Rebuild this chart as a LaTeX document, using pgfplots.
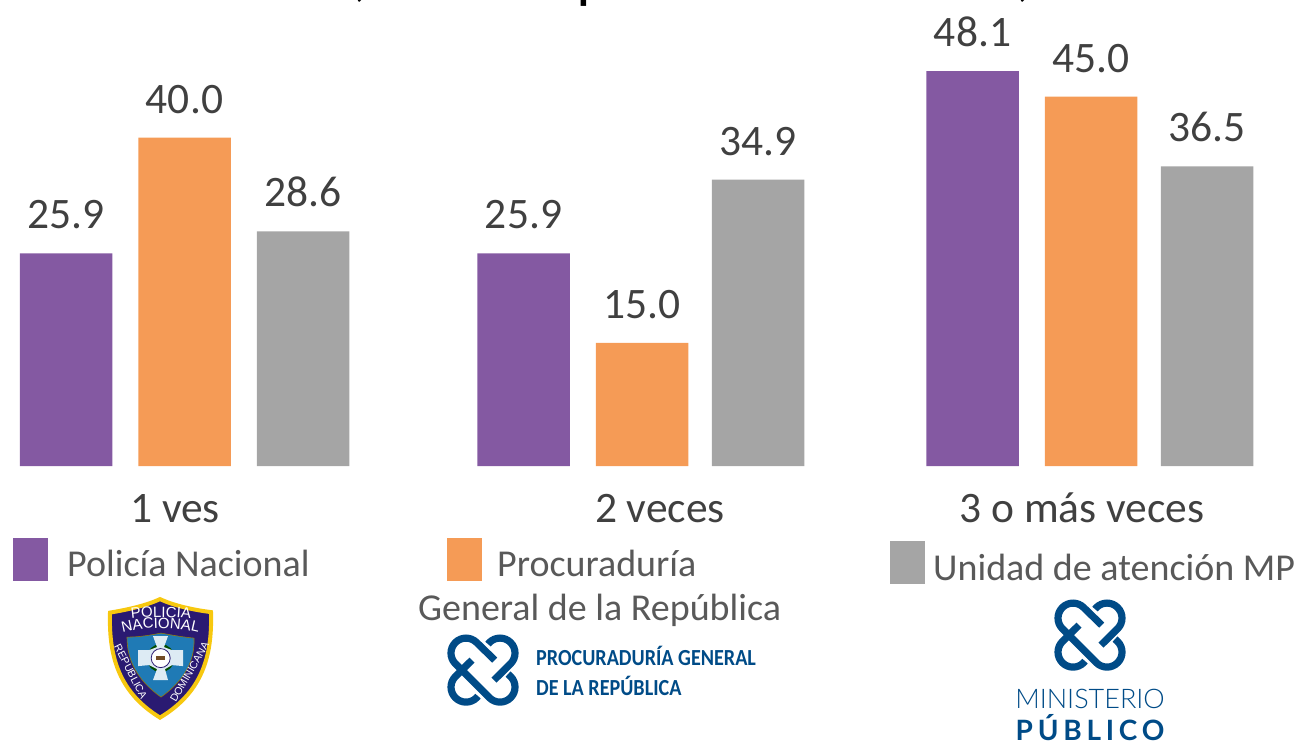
\documentclass[border=0pt]{standalone}
\usepackage{pgfplots}
\pgfplotsset{compat=1.18}
\usepackage{fontspec}
\setmainfont{Carlito}
\newfontfamily\heros{Liberation Sans}
\newfontfamily\lat{Lato Light}
\newfontfamily\latb[LetterSpace=17]{Lato}
\usetikzlibrary{decorations.text}
\definecolor{cpur}{HTML}{8459A2}
\definecolor{cora}{HTML}{F59B56}
\definecolor{cgra}{HTML}{A5A5A5}
\definecolor{ctxt}{HTML}{404040}
\definecolor{cleg}{HTML}{595959}
\definecolor{cblu}{HTML}{004B87}
\definecolor{cnav}{HTML}{2A1A72}
\definecolor{cyel}{HTML}{F7C80F}
\definecolor{cshi}{HTML}{1F7AB5}
\newcommand{\knot}[2]{%
\begin{scope}[shift={(#1,#2)},x=1pt,y=1pt,line width=7.2pt,cblu,line cap=butt]
\draw (11.7,10) -- (-6.4,27.6) arc[start angle=45,end angle=225,radius=15] -- (6.4,-27.6) arc[start angle=225,end angle=405,radius=15] -- (25,-4);
\draw (11,-10) -- (27.6,6.4) arc[start angle=-45,end angle=135,radius=15] -- (5,26);
\draw (-11,10) -- (-27.6,-6.4) arc[start angle=135,end angle=315,radius=15] -- (-5,-26);
\end{scope}}
\begin{document}
\begin{tikzpicture}
\begin{scope}[x=1pt,y=-1pt]
\path[use as bounding box] (0,0) rectangle (1297,741);
\clip (0,0) rectangle (1297,741);
\node[anchor=base,font=\fontsize{44}{44}\selectfont\bfseries,inner sep=0] at (361,-4) {,};
\node[anchor=base,font=\fontsize{44}{44}\selectfont\bfseries,inner sep=0] at (590,-1) {p};
\node[anchor=base,font=\fontsize{44}{44}\selectfont\bfseries,inner sep=0] at (1024,-4) {,};
\end{scope}
\begin{axis}[
  at={(0pt,-466pt)},anchor=south west,scale only axis,
  width=1297pt,height=466pt,
  xmin=0,xmax=1297,ymin=0,ymax=56.76,
  ybar,bar shift=0pt,bar width=92.5pt,
  axis line style={draw=none},
  major tick length=0pt,
  ytick=\empty,
  xtick={175,660,1082},
  xticklabels={1 ves,2 veces,3 o más veces},
  xticklabel style={font=\fontsize{43.5}{43.5}\selectfont,text=ctxt,inner sep=0pt,yshift=-56pt,anchor=base},
  clip=false,
  nodes near coords,
  /pgf/number format/assume math mode=true,
  /pgf/number format/.cd,fixed,fixed zerofill,precision=1,/pgfplots/.cd,
  nodes near coords style={font=\fontsize{43.5}{43.5}\selectfont,text=ctxt,anchor=south,inner sep=0pt,yshift=24pt},
]
\addplot[fill=cpur,draw=none] coordinates {(66,25.9) (523.5,25.9) (972.5,48.1)};
\addplot[fill=cora,draw=none] coordinates {(184.5,40.0) (642,15.0) (1091,45.0)};
\addplot[fill=cgra,draw=none] coordinates {(303,28.6) (758,34.9) (1207,36.5)};
\end{axis}
\begin{scope}[x=1pt,y=-1pt]
% legend
\fill[cpur] (13,538) rectangle (48,581);
\fill[cora] (447,538) rectangle (482,581);
\fill[cgra] (890,541) rectangle (925,584);
\begin{scope}[every node/.style={anchor=base west,inner sep=0,text=cleg,font=\fontsize{38}{38}\selectfont}]
\node at (67,576) {Policía Nacional};
\node at (497,576) {Procuraduría};
\node at (418,620) {General de la República};
\node at (933,580) {Unidad de atención MP};
\end{scope}
% logos
\knot{483}{670}
\knot{1090}{635}
\node[anchor=base west,inner sep=0,text=cblu,font=\fontsize{23}{23}\selectfont\bfseries,xscale=0.875] at (536,665) {PROCURADURÍA GENERAL};
\node[anchor=base west,inner sep=0,text=cblu,font=\fontsize{23}{23}\selectfont\bfseries,xscale=0.875] at (536,695) {DE LA REPÚBLICA};
\node[anchor=base,inner sep=0,text=cblu,font=\fontsize{27}{27}\lat] at (1090,708) {MINISTERIO};
\node[anchor=base,inner sep=0,text=cblu,font=\fontsize{28}{28}\latb\bfseries] at (1090,740) {PÚBLICO};
% shield
\draw[cyel,line width=4pt,fill=cnav] (110,612.5) .. controls (125,610) and (145,606) .. (160,599) .. controls (175,606) and (195,610) .. (211,612) .. controls (212,650) and (206,690) .. (160,717.5) .. controls (115,690) and (109,650) .. (110,612.5) -- cycle;
\draw[fill=cshi,draw=cyel!60!black,line width=0.6pt] (127,637) .. controls (140,637) and (150,635) .. (161,633) .. controls (172,635) and (183,637) .. (194,638) .. controls (195,660) and (185,680) .. (161,697) .. controls (137,680) and (127,660) .. (127,637) -- cycle;
\fill[green!30!black] (160.7,658) circle (14);
\fill[white!85!cshi] (153,636) -- (168,636) -- (164,647) -- (172,650) -- (183,650) -- (183,666) -- (172,665) -- (165,669) -- (168,680) -- (153,680) -- (157,669) -- (149,665) -- (138,666) -- (138,650) -- (149,650) -- (157,647) -- cycle;
\draw[cnav,fill=white,line width=0.8pt] (160.7,658) circle (9.5);
\fill[brown!60!black] (156,656) rectangle (165,660);
\path[postaction={decorate,decoration={text along path,text align=center,text={|\fontsize{15}{15}\heros\color{white}|POLICIA}}}] (125,620) .. controls (145,616) and (176,616) .. (197,620);
\path[postaction={decorate,decoration={text along path,text align=center,text={|\fontsize{15}{15}\heros\color{white}|NACIONAL}}}] (118,634) .. controls (145,626) and (176,626) .. (203,634);
\node[rotate=-63,text=white,inner sep=0,font=\fontsize{10.5}{10.5}\heros] at (130.7,671.7) {REPUBLICA};
\node[rotate=60,text=white,inner sep=0,font=\fontsize{10.5}{10.5}\heros] at (189.5,672) {DOMINICANA};
\end{scope}
\end{tikzpicture}
\end{document}
